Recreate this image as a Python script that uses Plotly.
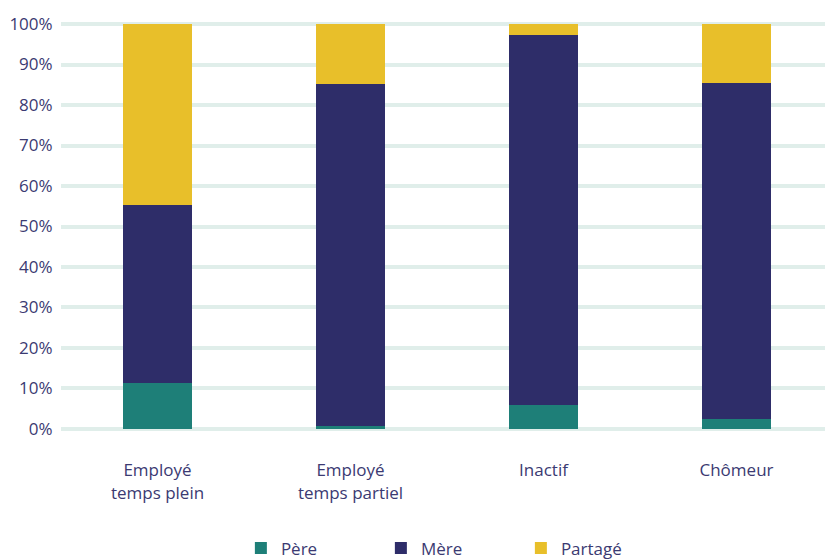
import plotly.graph_objects as go

categories = ["Employé<br>temps plein", "Employé<br>temps partiel", "Inactif", "Chômeur"]
pere = [11.3, 0.8, 5.9, 2.5]
mere = [43.9, 84.4, 91.4, 83.0]
partage = [44.8, 14.8, 2.7, 14.5]
y_ticks = [0, 10, 20, 30, 40, 50, 60, 70, 80, 90, 100]
y_tick_labels = [f"{v}%" for v in y_ticks]

text_color = "#3b3a72"
grid_color = "#e0eeea"

fig = go.Figure()
for name, vals, color in [("Père", pere, "#1e7f78"), ("Mère", mere, "#2e2d69"), ("Partagé", partage, "#e8bf2a")]:
    fig.add_trace(go.Bar(x=categories, y=vals, name=name, marker=dict(color=color, line=dict(width=0)), width=0.36))

fig.update_layout(
    barmode="stack",
    width=825, height=551,
    margin=dict(l=53, r=0, t=13.5, b=127.5, autoexpand=False),
    plot_bgcolor="white", paper_bgcolor="white",
    font=dict(family="Open Sans, sans-serif", size=17, color=text_color),
    showlegend=True,
    legend=dict(orientation="h", x=0.233, xanchor="left", y=-0.287, yanchor="middle",
                entrywidth=95, font=dict(size=17, color=text_color), traceorder="normal"),
)
fig.update_yaxes(range=[-0.5, 100.5], tickvals=y_ticks, ticktext=y_tick_labels, automargin=False,
                 showgrid=True, gridcolor=grid_color, gridwidth=4,
                 zeroline=True, zerolinecolor=grid_color, zerolinewidth=4,
                 showline=False, ticks="outside", ticklen=4, tickcolor="rgba(0,0,0,0)")
fig.update_xaxes(showgrid=False, showline=False, ticks="outside", ticklen=24, automargin=False,
                 tickcolor="rgba(0,0,0,0)", range=[-0.5, 3.5])

fig.write_html("out.html")
